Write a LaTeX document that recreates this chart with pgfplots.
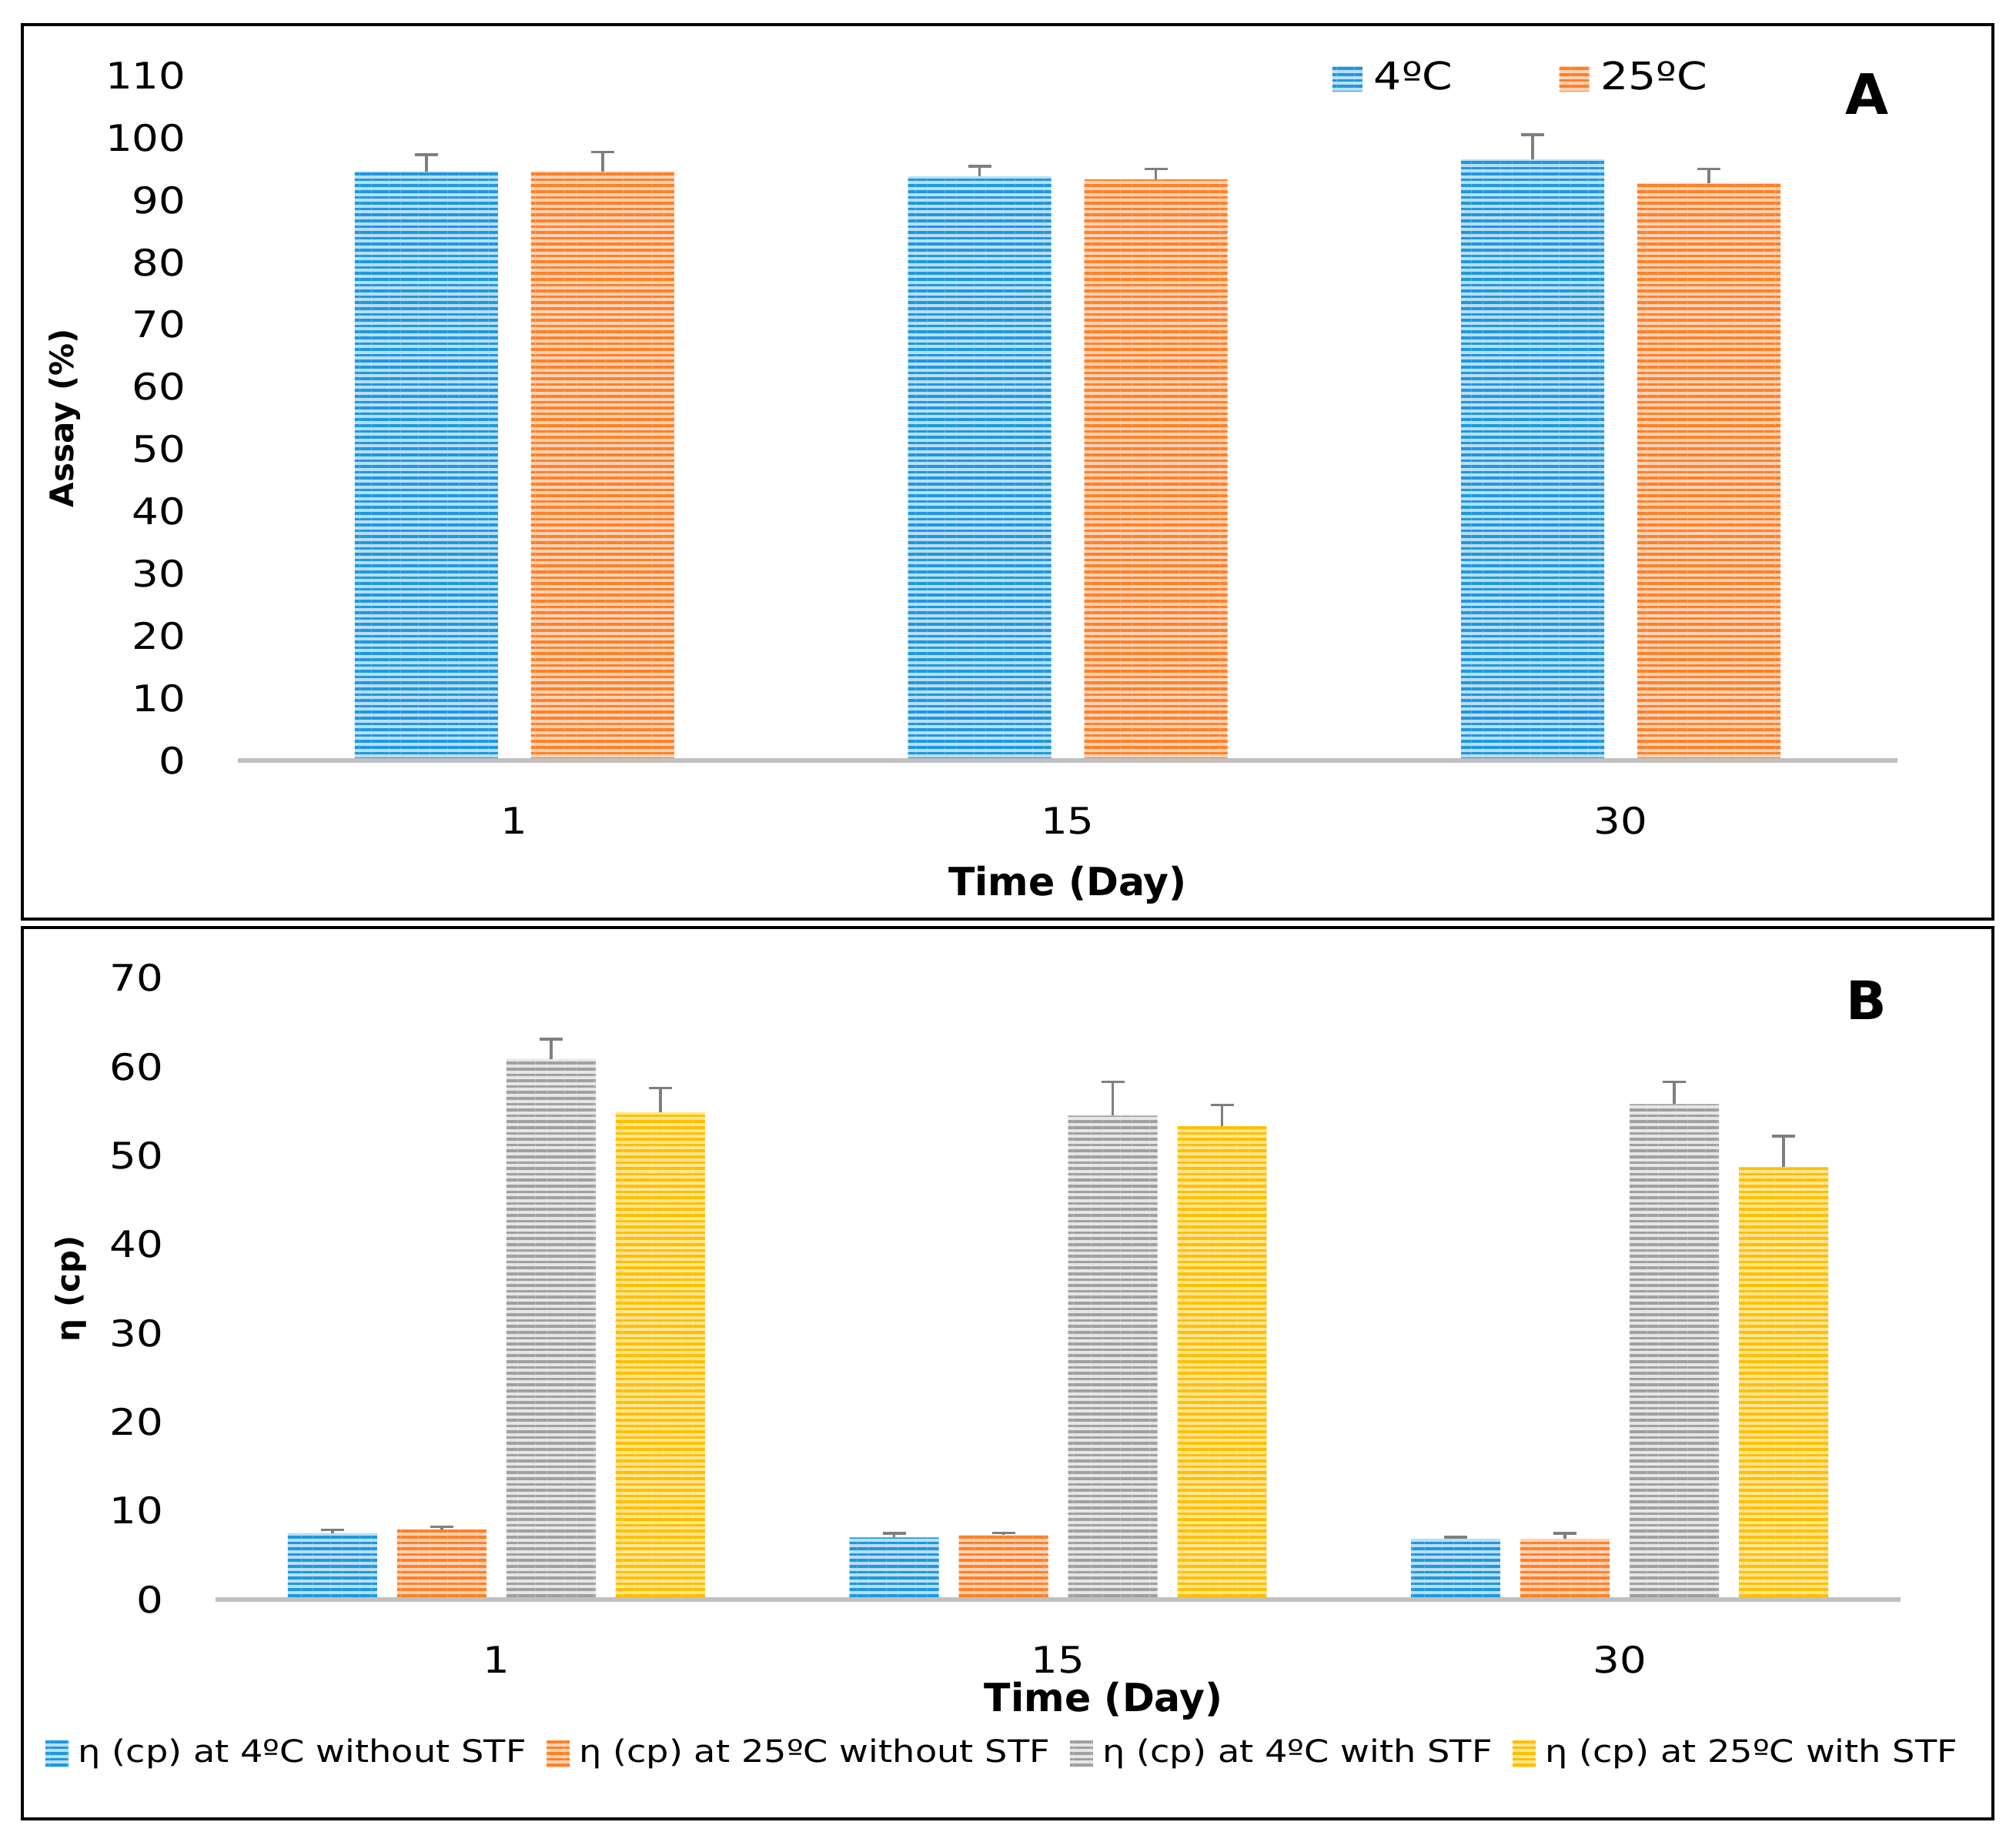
\documentclass[border=0pt]{standalone}
\usepackage{fontspec}
\setmainfont{DejaVu Sans}[FakeStretch=1.15]
\newfontfamily\plainfont{DejaVu Sans}
\usepackage{pgfplots}
\usepackage{pgfplotstable}
\pgfplotsset{compat=1.18}
\usetikzlibrary{patterns.meta}

\definecolor{bD}{RGB}{30,152,222}
\definecolor{bL}{RGB}{185,222,245}
\definecolor{oD}{RGB}{255,128,38}
\definecolor{oL}{RGB}{255,210,182}
\definecolor{gD}{RGB}{160,160,160}
\definecolor{gL}{RGB}{230,230,230}
\definecolor{yD}{RGB}{255,190,0}
\definecolor{yL}{RGB}{255,230,145}
\definecolor{errc}{RGB}{127,127,127}
\definecolor{axc}{RGB}{192,192,192}

\tikzset{stripe/.style 2 args={fill=#2, draw=none,
  postaction={pattern={Lines[angle=0,distance=1.52bp,line width=0.74bp]}, pattern color=#1}}}

\pgfplotstableread{
x v1 e1 v2 e2
0 94.6 2.7 94.6 3.1
1 93.8 1.6 93.3 1.7
2 96.5 4.0 92.7 2.3
}\dataA

\pgfplotstableread{
x b eb o eo g eg y ey
0 7.50 0.35 7.90 0.30 60.9 2.2 54.9 2.7
1 7.00 0.45 7.26 0.25 54.5 3.8 53.3 2.4
2 6.84 0.20 6.84 0.60 55.8 2.5 48.7 3.5
}\dataB

\pgfplotsset{
  common/.style={
    scale only axis,
    enlargelimits=false,
    xmin=-0.5, xmax=2.5, ymin=0,
    xtick={0,1,2}, xticklabels={1,15,30},
    ytick distance=10,
    major tick length=0pt,
    tick style={draw=none},
    axis x line*=bottom, axis y line*=left,
    y axis line style={draw=none},
    x axis line style={-, draw=axc, line width=1.1bp},
    /pgf/number format/assume math mode=true,
    tick label style={font=\fontsize{9.5bp}{11bp}\selectfont},
    yticklabel style={xshift=-10bp},
    xticklabel style={yshift=-8.6bp},
    label style={font=\plainfont\bfseries\fontsize{8.4bp}{10bp}\selectfont},
    axis on top,
    legend cell align=left,
  },
  errs/.style={
    error bars/y dir=plus, error bars/y explicit,
    error bars/error bar style={draw=errc, line width=0.7bp},
    error bars/error mark options={rotate=90, draw=errc, line width=0.7bp, mark size=3bp},
  },
}

\begin{document}
\begin{tikzpicture}
\useasboundingbox (0,0) rectangle (523.8bp,-478.4bp);
\draw[line width=0.8bp] (5.8bp,-6.4bp) rectangle (517.8bp,-238.8bp);
\draw[line width=0.8bp] (5.8bp,-241bp) rectangle (517.8bp,-472.6bp);

% Panel A
\begin{axis}[common,
  at={(61.8bp,-197.6bp)}, anchor=south west,
  width=431.2bp, height=178bp, ymax=110,
  ybar=0pt, bar width=37.2bp,
  xlabel={\bfseries\fontsize{10.1bp}{12bp}\selectfont Time (Day)},
  xlabel style={at={(axis description cs:0.5,-0.182)}, anchor=center},
  ylabel={Assay (\%)},
  ylabel style={at={(axis description cs:-0.1044,0.5)}, anchor=center},
  legend columns=2,
  legend style={at={(axis description cs:0.659,0.9955)}, anchor=west,
    draw=none, fill=none, inner sep=0pt,
    nodes={inner sep=0.6bp},
    font=\fontsize{9.9bp}{11bp}\selectfont,
    /tikz/every odd column/.append style={column sep=2.4bp},
    /tikz/every even column/.append style={column sep=27bp}},
  legend image code/.code={\path[#1] (0bp,-3.3bp) rectangle (7.8bp,3.3bp);},
]
\addplot[stripe={bD}{bL}, errs, bar shift=-22.9bp] table[x=x, y=v1, y error=e1]{\dataA};
\addlegendentry{4ºC}
\addplot[stripe={oD}{oL}, errs, bar shift=22.9bp] table[x=x, y=v2, y error=e2]{\dataA};
\addlegendentry{25ºC}
\end{axis}
\node[font=\plainfont\bfseries\fontsize{14.5bp}{16bp}\selectfont] at (485.2bp,-24.5bp) {A};

% Panel B
\begin{axis}[common,
  at={(56bp,-415.6bp)}, anchor=south west,
  width=437.8bp, height=161.5bp, ymax=70,
  ybar=0pt, bar width=23.2bp,
  xlabel={\bfseries\fontsize{10.1bp}{12bp}\selectfont Time (Day)},
  xlabel style={at={(axis description cs:0.527,-0.1635)}, anchor=center},
  ylabel={η (cp)},
  ylabel style={at={(axis description cs:-0.0859,0.5)}, anchor=center},
  legend columns=4,
  legend style={at={(axis description cs:-0.1014,-0.2477)}, anchor=west,
    draw=none, fill=none, inner sep=0pt,
    nodes={inner sep=0.6bp},
    font=\fontsize{8.05bp}{9bp}\selectfont,
    /tikz/every odd column/.append style={column sep=1.9bp},
    /tikz/every even column/.append style={column sep=4.6bp}},
  legend image code/.code={\path[#1] (0bp,-3.5bp) rectangle (6bp,3.5bp);},
]
\addplot[stripe={bD}{bL}, errs, bar shift=-42.6bp] table[x=x, y=b, y error=eb]{\dataB};
\addlegendentry{η (cp) at 4ºC without STF}
\addplot[stripe={oD}{oL}, errs, bar shift=-14.2bp] table[x=x, y=o, y error=eo]{\dataB};
\addlegendentry{η (cp) at 25ºC without STF}
\addplot[stripe={gD}{gL}, errs, bar shift=14.2bp] table[x=x, y=g, y error=eg]{\dataB};
\addlegendentry{η (cp) at 4ºC with STF}
\addplot[stripe={yD}{yL}, errs, bar shift=42.6bp] table[x=x, y=y, y error=ey]{\dataB};
\addlegendentry{η (cp) at 25ºC with STF}
\end{axis}
\node[font=\plainfont\bfseries\fontsize{13.8bp}{16bp}\selectfont] at (485bp,-259.8bp) {B};
\end{tikzpicture}
\end{document}
